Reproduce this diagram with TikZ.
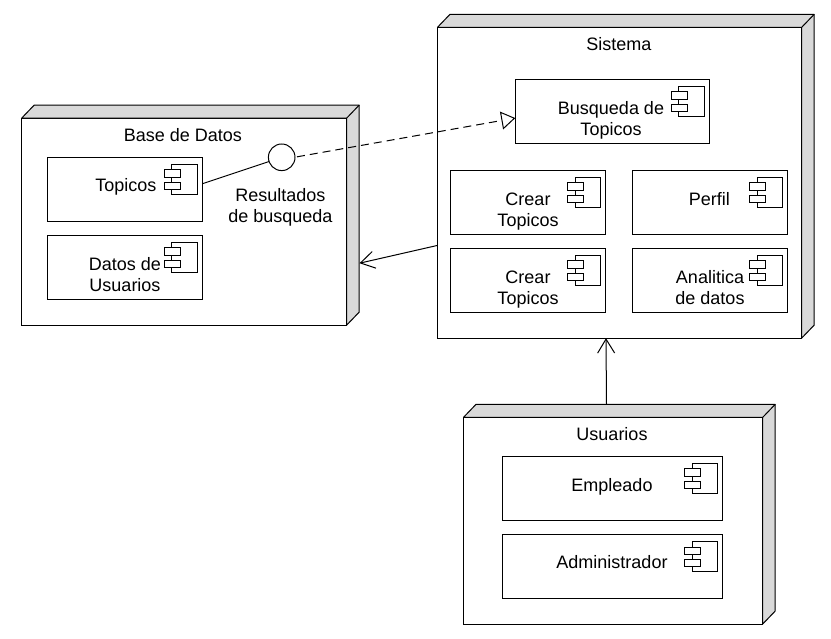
\documentclass[tikz,border=0pt]{standalone}
\usepackage{fontspec}
\setmainfont{Liberation Sans}
\usetikzlibrary{arrows.meta}

\begin{document}
\begin{tikzpicture}[x=1pt,y=-1pt]
    \tikzset{every node/.style = {outer sep=0pt}}
    \tikzset{device/.style = {shape=rectangle, draw, fill=white, line width=1pt, inner sep=0pt}}
    \tikzset{depth/.style = {draw, fill=black!15, line width=1pt, line join=round}}
    \tikzset{comp/.style = {shape=rectangle, draw, fill=white, line width=1pt, inner sep=0pt, minimum height=64pt}}
    \tikzset{lbl/.style = {anchor=base, align=center, inner sep=0pt, font=\fontsize{18}{21}\selectfont}}
    \tikzset{edge/.style = {line width=1pt}}
    \useasboundingbox (0,0) rectangle (831,639);

    % devices
    \node[device, minimum width=325pt, minimum height=207pt] (base) at (184.2,221.6) {};
    \node[device, minimum width=364.2pt, minimum height=310.8pt] (sistema) at (619.6,182.7) {};
    \node[device, minimum width=299.2pt, minimum height=206.7pt] (usuarios) at (613.1,520.7) {};

    \foreach \n in {base,sistema,usuarios} {
        \draw[depth] (\n.north west) -- ++(12.5,-13) -- ([shift={(12.5,-13)}]\n.north east)
            -- ([shift={(12.5,-13)}]\n.south east) -- (\n.south east) -- (\n.north east) -- cycle;
        \draw[edge] (\n.north east) -- ++(12.5,-13);
    }

    % components
    \node[comp, minimum width=155pt] (topicos) at (124.8,189.2) {};
    \node[comp, minimum width=155pt] (datos) at (124.8,267.3) {};
    \node[comp, minimum width=194pt] (busqueda) at (612.3,111.3) {};
    \node[comp, minimum width=155.4pt] (crearuno) at (528,202.2) {};
    \node[comp, minimum width=155.4pt] (perfil) at (710,202.2) {};
    \node[comp, minimum width=155.4pt] (creardos) at (528,280.2) {};
    \node[comp, minimum width=155.4pt] (analitica) at (710,280.2) {};
    \node[comp, minimum width=220.4pt] (empleado) at (612.5,488.2) {};
    \node[comp, minimum width=220.4pt] (administrador) at (612.5,566.3) {};

    % component icons
    \foreach \c in {topicos,datos,busqueda,crearuno,perfil,creardos,analitica,empleado,administrador} {
        \draw[edge] ([shift={(-30.5,7)}]\c.north east) rectangle ([shift={(-5,37)}]\c.north east);
        \draw[edge, fill=white] ([shift={(-38.3,12.7)}]\c.north east) rectangle ([shift={(-22.3,20)}]\c.north east);
        \draw[edge, fill=white] ([shift={(-38.3,25)}]\c.north east) rectangle ([shift={(-22.3,32)}]\c.north east);
    }

    % labels
    \node[lbl] (basetxt) at (182.8,141.5) {Base de Datos};
    \node[lbl] (sistematxt) at (618.8,51) {Sistema};
    \node[lbl] (usuariostxt) at (612,440.5) {Usuarios};
    \node[lbl] (topicostxt) at (125.8,192) {Topicos};
    \node[lbl] (datostxt) at (125,292) {Datos de\\Usuarios};
    \node[lbl] (busquedatxt) at (611,135.5) {Busqueda de\\Topicos};
    \node[lbl] (crearunotxt) at (528,227) {Crear\\Topicos};
    \node[lbl] (perfiltxt) at (709.3,206) {Perfil};
    \node[lbl] (creardostxt) at (528,305) {Crear\\Topicos};
    \node[lbl] (analiticatxt) at (710,304.7) {Analitica\\de datos};
    \node[lbl] (empleadotxt) at (612,491) {Empleado};
    \node[lbl] (administradortxt) at (612,568.7) {Administrador};
    \node[lbl] (resultadostxt) at (280.3,222.5) {Resultados\\de busqueda};

    % interface
    \node[draw, shape=circle, fill=white, line width=1pt, minimum size=26.6pt, inner sep=0pt] (iface) at (281.7,157.3) {};

    % connectors
    \coordinate (basedepth) at (359.5,263.2);
    \coordinate (usuariostop) at (606.5,404.3);
    \draw[edge] (topicos.4.2) -- (iface);
    \draw[edge, dash pattern=on 8pt off 5pt, -{Triangle[open,length=14pt,width=18pt]}] (iface.2) ++(2,0) -- (busqueda.184.1);
    \draw[edge, -{Straight Barb[length=14pt,width=17pt]}] (sistema.199.7) -- (basedepth);
    \draw[edge, -{Straight Barb[length=14pt,width=17pt]}] (usuariostop) -- (sistema.265.2);
\end{tikzpicture}
\end{document}
